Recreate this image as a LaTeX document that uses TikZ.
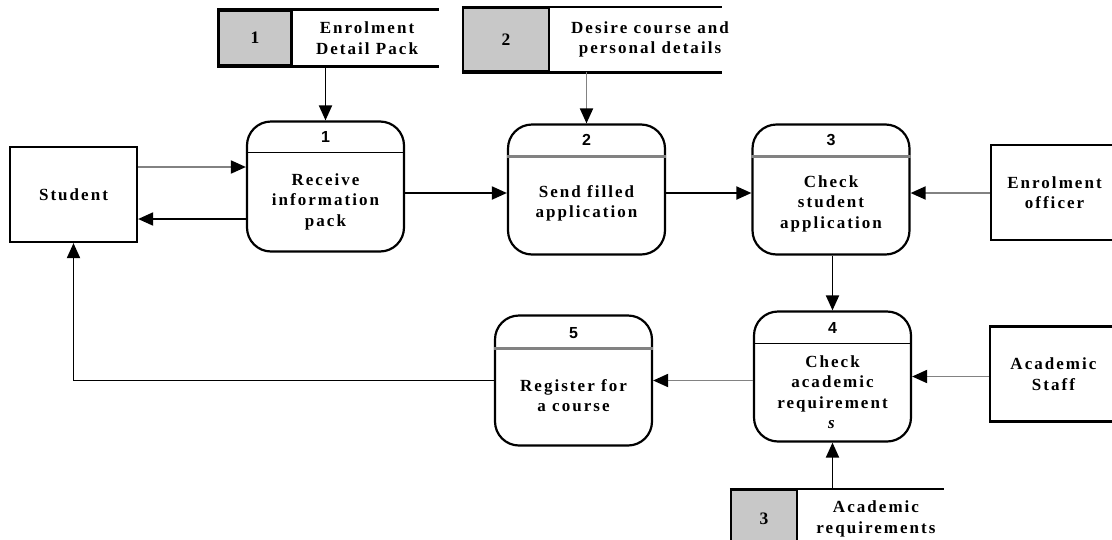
\documentclass[tikz,border=0pt]{standalone}
\usepackage{fontspec}
\setmainfont{Liberation Serif}
\newfontfamily\lblfont[LetterSpace=12]{Liberation Serif}
\newfontfamily\numfont{Liberation Sans}
\usetikzlibrary{arrows.meta,calc}
\definecolor{storegray}{RGB}{200,200,200}
\definecolor{linegray}{RGB}{130,130,130}
\begin{document}
\begin{tikzpicture}[x=1pt,y=-1pt,
  lbl/.style={align=center,font=\lblfont\bfseries\fontsize{17}{20.5}\selectfont,inner sep=0pt},
  proc/.style={draw,line width=2.2pt,rounded corners=24pt,minimum width=157pt,minimum height=130pt,inner sep=0pt},
  ext/.style={draw,line width=2.2pt,minimum width=127pt,minimum height=95pt,inner sep=0pt},
  procnum/.style={font=\numfont\bfseries\fontsize{16}{18}\selectfont,inner sep=0pt},
  dsbox/.style={draw,fill=storegray,line width=2.2pt,inner sep=0pt,font=\bfseries\fontsize{17.5}{18}\selectfont},
  dsline/.style={line width=2.8pt},
  divk/.style={line width=1.8pt},
  divg/.style={line width=2.2pt,linegray},
  flow/.style={line width=1.9pt,-{Triangle[length=15pt,width=13pt,color=black]}},
  flowg/.style={flow,linegray},
]
\useasboundingbox (0,0) rectangle (1112,539);

% external entities
\node[ext] (student) at (73.5,194.5) {};
\node[lbl] at (student.center) {Student};
\node[ext] (officer) at (1054.5,192.5) {};
\node[lbl] at (officer.center) {Enrolment\\officer};
\node[ext] (staff) at (1053.5,374) {};
\node[lbl] at (staff.center) {Academic\\Staff};

% processes: number above the divider, description below it
\node[proc] (p1) at (325.5,186.5) {};
\draw[divk] ($(p1.north west)+(0,32)$) -- ($(p1.north east)+(0,32)$);
\node[procnum] at ($(p1.north)+(0,17)$) {1};
\node[lbl] at ($(p1.center)+(0,15)$) {Receive\\information\\pack};

\node[proc] (p2) at (586.5,189.5) {};
\draw[divg] ($(p2.north west)+(0,33)$) -- ($(p2.north east)+(0,33)$);
\node[procnum] at ($(p2.north)+(0,17)$) {2};
\node[lbl] at ($(p2.center)+(0,14)$) {Send filled\\application};

\node[proc] (p3) at (831,189.5) {};
\draw[divg] ($(p3.north west)+(0,33)$) -- ($(p3.north east)+(0,33)$);
\node[procnum] at ($(p3.north)+(0,17)$) {3};
\node[lbl] at ($(p3.center)+(0,14)$) {Check\\student\\application};

\node[proc] (p4) at (832.5,376.5) {};
\draw[divk] ($(p4.north west)+(0,33)$) -- ($(p4.north east)+(0,33)$);
\node[procnum] at ($(p4.north)+(0,18)$) {4};
\node[lbl] at ($(p4.center)+(0,15.5)$) {Check\\academic\\requirement\\\textit{s}};

\node[proc] (p5) at (573.5,380.5) {};
\draw[divg] ($(p5.north west)+(0,34)$) -- ($(p5.north east)+(0,34)$);
\node[procnum] at ($(p5.north)+(0,19)$) {5};
\node[lbl] at ($(p5.center)+(0,15)$) {Register for\\a course};

% data stores: grey id box, open-ended pair of rules
\node[dsbox,minimum width=73pt,minimum height=55pt] (ds1) at (255,38) {1};
\draw[dsline] (ds1.north west) -- ++(222,0);
\draw[dsline] (ds1.south west) -- ++(222,0);
\node[lbl] (ds1t) at (367,38) {Enrolment\\Detail Pack};

\node[dsbox,minimum width=86pt,minimum height=63pt] (ds2) at (506,39.5) {2};
\draw[dsline] (ds2.north west) -- ++(260,0);
\draw[dsline] (ds2.south west) -- ++(260,0);
\node[lbl] (ds2t) at (650,39.5) {Desire course and\\personal details};

\node[dsbox,minimum width=66pt,minimum height=58pt] (ds3) at (764,519) {3};
\draw[dsline] (ds3.north west) -- ++(214,0);
\node[lbl] (ds3t) at (876,519) {Academic\\requirements};

% data flows
\coordinate (s1) at ($(student.east)+(0,-27.5)$);
\coordinate (s2) at ($(student.east)+(0,24.5)$);
\draw[flowg] (s1) -- (s1 -| p1.west);
\draw[flow] (s2 -| p1.west) -- (s2);
\coordinate (r1) at ($(p1.east)+(0,6.5)$);
\draw[flow] (r1) -- (r1 -| p2.west);
\coordinate (r2) at ($(p2.east)+(0,3.5)$);
\draw[flow] (r2) -- (r2 -| p3.west);
\draw[flowg] (officer.west |- r2) -- (r2 -| p3.east);
\draw[flow] (p1.north |- ds1.south) -- (p1.north);
\draw[flowg] (p2.north |- ds2.south) -- (p2.north);
\draw[flow] (p4.north |- p3.south) -- (p4.north);
\draw[flowg] (staff.west |- p4.east) -- (p4.east);
\draw[flowg] (p4.west |- p5.east) -- (p5.east);
\draw[flow] (p4.south |- ds3.north) -- (p4.south);
\draw[flow] (p5.west) -| (student.south);
\end{tikzpicture}
\end{document}
